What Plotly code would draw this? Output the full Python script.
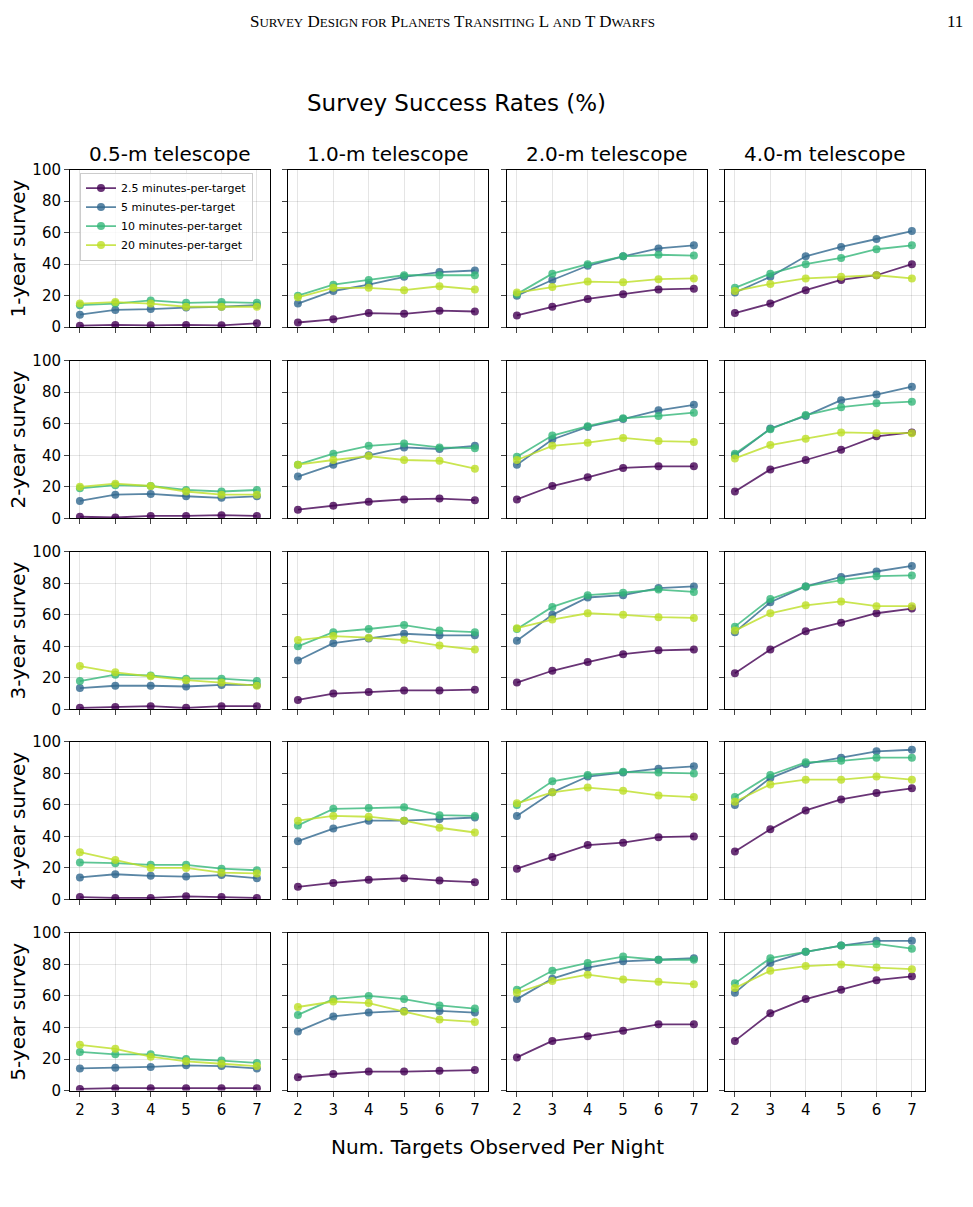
import plotly.graph_objects as go

x_targets = [2, 3, 4, 5, 6, 7]
telescopes = ["0.5-m telescope", "1.0-m telescope", "2.0-m telescope", "4.0-m telescope"]
surveys = ["1-year survey", "2-year survey", "3-year survey", "4-year survey", "5-year survey"]
series_names = ["2.5 minutes-per-target", "5 minutes-per-target", "10 minutes-per-target", "20 minutes-per-target"]
colors = ["rgba(68,1,84,0.8)", "rgba(49,104,142,0.8)", "rgba(53,183,121,0.8)", "rgba(189,223,38,0.8)"]

# data[row][col] = [s2.5, s5, s10, s20]
r1c1 = [[1,1.5,1.2,1.5,1.2,2.5],[8,11,11.5,12.5,13,14],[14,15,17,15.5,16,15.5],[15,16,15,13,13,13]]
r1c2 = [[3,5,9,8.5,10.5,10],[15,23,27,32,35,36],[20,27,30,33,33,33],[19,25,25,23.5,26,24]]
r1c3 = [[7.5,13,18,21,24,24.5],[20,30,39,45,50,52],[21,34,40,45,46,45.5],[22,25.5,29,28.5,30.5,31]]
r1c4 = [[9,15,23.5,30,33,40],[22,32,45,51,56,61],[25,34,40,44,49.5,52],[23,27.5,31,32,33,31]]
r2c1 = [[1,0.5,1.5,1.5,2,1.5],[11,15,15.5,14,13,14],[19,21,20.5,18,17,18],[20,22,20.5,17,15,15]]
r2c2 = [[5.5,8,10.5,12,12.5,11.5],[26.5,34,40,45,44,46],[34,41,46,47.5,45,44.5],[34,37,39.5,37,36.5,31.5]]
r2c3 = [[12,20.5,26,32,33,33],[34,50,58,63,68.5,72],[39,52.5,58.5,63.5,65,67],[37,46,48,51,49,48.5]]
r2c4 = [[17,31,37,43.5,52,54.5],[40,57,65,75,78.5,83.5],[41,56.5,65.5,70.5,73,74],[38,46.5,50.5,54.5,54,54]]
r3c1 = [[1,1.5,2,1,2,2],[13.5,15,15,14.5,15.5,15.5],[18,22,21.5,19.5,19.5,18],[27.5,23.5,21,18.5,17,15]]
r3c2 = [[6,10,11,12,12,12.5],[31,42,45,48,47,47],[40,49,51,53.5,50,49],[44,46.5,45.5,44,40.5,38]]
r3c3 = [[17,24.5,30,35,37.5,38],[43.5,60,71,72.5,77,78],[51,65,72.5,74,76,74.5],[51.5,57,61,60,58.5,58]]
r3c4 = [[23,38,49.5,55,61,64],[49,68,78,84,87.5,91],[52.5,70,78,82,84.5,85],[50,61,66,68.5,65.5,65.5]]
r4c1 = [[1.5,1,1,2,1.5,1],[14,16,15,14.5,15.5,13.5],[23.5,23,22,22,19.5,18.5],[30,25,20,20,17,16.5]]
r4c2 = [[8,10.5,12.5,13.5,12,11],[37,45,50,50,51,52],[47,57.5,58,58.5,53.5,53],[50,53,52.5,50,45.5,42.5]]
r4c3 = [[19.5,27,34.5,36,39.5,40],[53,68,78,80.5,83,84.5],[60,75,79,81,80.5,80],[61,68,71,69,66,65]]
r4c4 = [[30.5,44.5,56.5,63.5,67.5,70.5],[60,77,86,90,94,95],[65,79,87,88,90,90],[62,73,76,76,78,76]]
r5c1 = [[1,1.5,1.5,1.5,1.5,1.5],[14,14.5,15,16,15.5,14],[24.5,23,23,20,19,17.5],[29,26.5,21.5,18.5,17,15.5]]
r5c2 = [[8.5,10.5,12,12,12.5,13],[37.5,47,49.5,50.5,50.5,49.5],[48,58,60,58,54,52],[53,56.5,55.5,50,45,43.5]]
r5c3 = [[21,31.5,34.5,38,42,42],[58,71,78,82,83,84],[64,76,81,85,83,83],[62,69.5,73.5,70.5,69,67.5]]
r5c4 = [[31.5,49,58,64,70,72.5],[62,81,88,92,95,95],[68,84,88,92,93,90],[65,76,79,80,78,77]]
data = [[r1c1,r1c2,r1c3,r1c4],[r2c1,r2c2,r2c3,r2c4],[r3c1,r3c2,r3c3,r3c4],
        [r4c1,r4c2,r4c3,r4c4],[r5c1,r5c2,r5c3,r5c4]]

OFF = 8  # page body margin
W, H = 973 - 2 * OFF, 1207 - 2 * OFF
col_px = [(70, 270), (288, 488), (507, 707), (725, 925)]
row_px = [(163, 323), (357, 517), (551, 711), (744, 904), (938, 1098)]

def px(v):
    return (v - OFF) / W

def py(v):
    return 1 - (v - OFF) / H

fig = go.Figure()
layout = dict(width=W, height=H, margin=dict(l=0, r=0, t=0, b=0),
              paper_bgcolor="white", plot_bgcolor="white",
              font=dict(family="DejaVu Sans", color="black"), showlegend=True)
ann = []
for r in range(5):
    for c in range(4):
        k = r * 4 + c + 1
        xa = "xaxis" if k == 1 else f"xaxis{k}"
        ya = "yaxis" if k == 1 else f"yaxis{k}"
        xr = "x" if k == 1 else f"x{k}"
        yr = "y" if k == 1 else f"y{k}"
        for s in range(4):
            fig.add_trace(go.Scatter(x=x_targets, y=data[r][c][s], xaxis=xr, yaxis=yr,
                                     mode="lines+markers", name=series_names[s],
                                     showlegend=(k == 1),
                                     line=dict(color=colors[s], width=1.8),
                                     marker=dict(color=colors[s], size=8)))
        x0, x1 = col_px[c]; y0, y1 = row_px[r]
        layout[xa] = dict(domain=[px(x0), px(x1)], anchor=yr, range=[1.72, 7.37],
                          tickvals=x_targets, showticklabels=(r == 4), ticks="outside",
                          ticklen=5, showline=True, mirror=True, linecolor="black",
                          gridcolor="rgba(0,0,0,0.1)", zeroline=False, tickfont=dict(size=15))
        layout[ya] = dict(domain=[py(y1), py(y0)], anchor=xr, range=[0, 100],
                          tickvals=[0, 20, 40, 60, 80, 100], showticklabels=(c == 0),
                          ticks="outside", ticklen=5, showline=True, mirror=True,
                          linecolor="black", gridcolor="rgba(0,0,0,0.1)", zeroline=False,
                          tickfont=dict(size=15))
    ann.append(dict(text=surveys[r], x=px(18), y=py(sum(row_px[r]) / 2), textangle=-90,
                    font=dict(size=20)))
for c in range(4):
    ann.append(dict(text=telescopes[c], x=px(sum(col_px[c]) / 2), y=py(147), font=dict(size=20)))
ann.append(dict(text="Survey Success Rates (%)", x=px(456), y=py(95), font=dict(size=23)))
ann.append(dict(text="Num. Targets Observed Per Night", x=px(498), y=py(1155), font=dict(size=20)))
sc = "<span style='font-size:13px'>"
hdr = (f"S{sc}URVEY</span> D{sc}ESIGN FOR</span> P{sc}LANETS</span> T{sc}RANSITING</span> "
       f"L {sc}AND</span> T D{sc}WARFS</span>")
ann.append(dict(text=hdr, x=px(452), y=py(13), font=dict(size=17, family="Liberation Serif")))
ann.append(dict(text="11", x=px(955), y=py(13), font=dict(size=17, family="Liberation Serif")))
for a in ann:
    a.update(xref="paper", yref="paper", showarrow=False, xanchor="center", yanchor="middle")
layout["annotations"] = ann
layout["legend"] = dict(x=px(80), y=py(166), xanchor="left", yanchor="top",
                        bgcolor="rgba(255,255,255,0.8)", bordercolor="#ccc", borderwidth=1,
                        font=dict(size=11), tracegroupgap=0, itemwidth=30)
fig.update_layout(**layout)
fig.write_html("out.html")
